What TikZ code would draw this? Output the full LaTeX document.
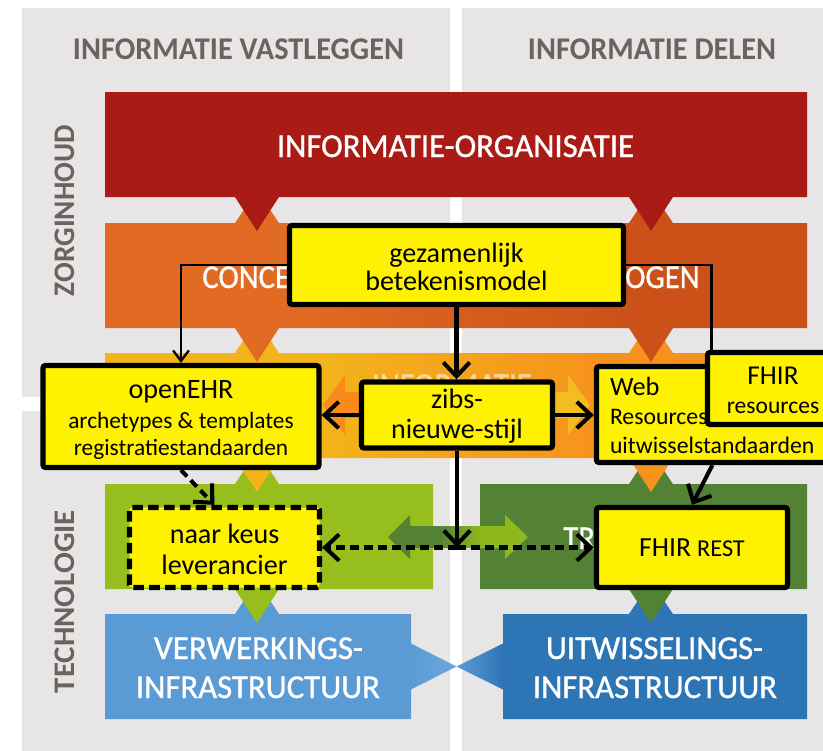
\documentclass[tikz,border=0pt]{standalone}
\usepackage{fontspec}
\setmainfont{Carlito}
\newfontfamily\bandf[FakeBold=1]{Carlito}
\usepackage{graphicx}
\usetikzlibrary{arrows.meta,calc}
\newlength\pxu \setlength\pxu{0.02cm}
\definecolor{panel}{HTML}{E7E5E6}
\definecolor{hdrc}{HTML}{6E635C}
\definecolor{redb}{HTML}{A91B14}
\definecolor{orL}{HTML}{E16B22}
\definecolor{orR}{HTML}{CC5118}
\definecolor{midL}{HTML}{F2B31B}
\definecolor{midR}{HTML}{F7931D}
\definecolor{midArrL}{HTML}{FA8B1A}
\definecolor{midArrR}{HTML}{F3BD22}
\definecolor{grL}{HTML}{96BE1D}
\definecolor{grR}{HTML}{548235}
\definecolor{grArrR}{HTML}{8DB91E}
\definecolor{blL}{HTML}{5B9BD5}
\definecolor{blLt}{HTML}{6CA8DE}
\definecolor{blMid}{HTML}{5C9BD6}
\definecolor{blR}{HTML}{2E75B6}
\pgfdeclarehorizontalshading{orshade}{100bp}{color(0bp)=(orL); color(38bp)=(orL); color(62bp)=(orR); color(100bp)=(orR)}
\pgfdeclarehorizontalshading{midshade}{100bp}{color(0bp)=(midL); color(41bp)=(midL); color(59.5bp)=(midR); color(100bp)=(midR)}
\pgfdeclarehorizontalshading{midarrow}{100bp}{color(0bp)=(midArrL); color(43bp)=(midArrL); color(58bp)=(midArrR); color(100bp)=(midArrR)}
\pgfdeclarehorizontalshading{grarrow}{100bp}{color(0bp)=(grR); color(43.5bp)=(grR); color(58bp)=(grArrR); color(100bp)=(grArrR)}
\begin{document}
\begin{tikzpicture}[x=0.02cm,y=-0.02cm,
  hdr/.style={font=\bfseries\fontsize{18}{18}\selectfont, text=hdrc, inner sep=0pt, anchor=base},
  bandtxt/.style={font=\bandf\fontsize{19}{19}\selectfont, text=white, inner sep=0pt, anchor=base},
  ybox/.style={draw=black, line width=3pt, fill=yellow, rounded corners=1.5pt, inner sep=0pt, align=center, text=black},
  conn/.style={line width=2.3pt, -{Straight Barb[length=8pt,width=15pt]}},
  dconn/.style={conn, dash pattern=on 5pt off 3pt},
  thinconn/.style={line width=1.3pt, -{Straight Barb[length=6pt,width=9pt]}},
  thinline/.style={line width=1.3pt}]
\useasboundingbox (0,0) rectangle (823,751);
\clip (0,0) rectangle (823,751);
\fill[white] (0,0) rectangle (823,751);
% panels
\fill[panel] (22,8) rectangle (450,397);
\fill[panel] (462,8) rectangle (823,397);
\fill[panel] (22,411) rectangle (450,751);
\fill[panel] (462,411) rectangle (823,751);
% headers
\node[hdr] (h1) at (238.5,59) {\resizebox{331\pxu}{\height}{INFORMATIE VASTLEGGEN}};
\node[hdr] (h2) at (652,59) {\resizebox{248\pxu}{\height}{INFORMATIE DELEN}};
\node[hdr, rotate=90, font=\bfseries\fontsize{17}{17}\selectfont] (zorg) at (74,210.5) {\resizebox{171\pxu}{\height}{ZORGINHOUD}};
\node[hdr, rotate=90, font=\bfseries\fontsize{17}{17}\selectfont] (tech) at (74,601.5) {\resizebox{183\pxu}{\height}{TECHNOLOGIE}};
% blue
\fill[blL] (105,614) -- (235,614) -- (257,581) -- (279,614) -- (411,614) -- (411,719) -- (105,719) -- cycle;
\shade[left color=blL, right color=blLt] (410,643) -- (456.5,666.5) -- (410,690) -- cycle;
\fill[blR] (503,614) -- (629,614) -- (651,581) -- (673,614) -- (807,614) -- (807,719) -- (503,719) -- cycle;
\shade[left color=blMid, right color=blR] (456.5,666.5) -- (504,643) -- (504,690) -- cycle;
\node[bandtxt] (v1) at (258.5,659) {\resizebox{209\pxu}{\height}{VERWERKINGS-}};
\node[bandtxt] (v2) at (258,698) {\resizebox{244\pxu}{\height}{INFRASTRUCTUUR}};
\node[bandtxt] (u1) at (654.5,659) {\resizebox{217\pxu}{\height}{UITWISSELINGS-}};
\node[bandtxt] (u2) at (655,698) {\resizebox{244\pxu}{\height}{INFRASTRUCTUUR}};
% green
\fill[grL] (105,484) -- (235,484) -- (257,451) -- (279,484) -- (433,484) -- (433,589) -- (279,589) -- (257,623) -- (235,589) -- (105,589) -- cycle;
\fill[grR] (480,484) -- (629,484) -- (651,451) -- (673,484) -- (807,484) -- (807,589) -- (673,589) -- (651,623) -- (629,589) -- (480,589) -- cycle;
\shade[shading=grarrow] (388,537) -- (410,515) -- (410,526) -- (505,526) -- (505,515) -- (528,537) -- (505,559) -- (505,548) -- (410,548) -- (410,559) -- cycle;
\node[bandtxt, anchor=base west] (tr) at (563,549) {\scalebox{0.92}[1]{TR}};
% middle
\shade[shading=midshade] (105,353) -- (235,353) -- (257,320) -- (279,353) -- (629,353) -- (651,320) -- (673,353) -- (807,353) -- (807,458) -- (673,458) -- (651,492) -- (629,458) -- (279,458) -- (257,492) -- (235,458) -- (105,458) -- cycle;
\shade[shading=midarrow] (323,405) -- (345,375) -- (345,392) -- (568,392) -- (568,375) -- (590,405) -- (568,435) -- (568,418) -- (345,418) -- (345,435) -- cycle;
\node[bandtxt, text opacity=0.55] (inf) at (452,396) {\resizebox{160\pxu}{\height}{INFORMATIE}};
% orange
\shade[shading=orshade] (105,223) -- (235,223) -- (257,190) -- (279,223) -- (629,223) -- (651,190) -- (673,223) -- (807,223) -- (807,328) -- (673,328) -- (651,362) -- (629,328) -- (279,328) -- (257,362) -- (235,328) -- (105,328) -- cycle;
\node[bandtxt, anchor=base west] (conc) at (202,288) {\scalebox{0.92}[1]{CONCE}};
\node[bandtxt, anchor=base east] (ogen) at (700,288) {\scalebox{0.92}[1]{OGEN}};
% red
\fill[redb] (105,92) -- (807,92) -- (807,197) -- (673,197) -- (651,231) -- (629,197) -- (279,197) -- (257,231) -- (235,197) -- (105,197) -- cycle;
\node[bandtxt] (org) at (455.5,157) {\resizebox{357\pxu}{\height}{INFORMATIE-ORGANISATIE}};
% yellow boxes
\node[ybox, minimum width=276*0.02cm, minimum height=102*0.02cm, font=\fontsize{13.3}{15.5}\selectfont] (ehr) at (181,416.5)
  {\rule{0pt}{14.5pt}{\fontsize{16}{16}\selectfont openEHR}\\[1.5pt]archetypes \& templates\\registratiestandaarden};
\node[ybox, minimum width=191*0.02cm, minimum height=66*0.02cm, font=\fontsize{16}{17}\selectfont] (zibs) at (457,415)
  {\rule{0pt}{12.5pt}zibs-\\nieuwe-stijl};
\node[ybox, align=left, text width=219.5*0.02cm, inner xsep=13.5*0.02cm, minimum height=96*0.02cm, font=\fontsize{13.5}{16.5}\selectfont] (web) at (719.75,414.5)
  {\rule{0pt}{11.5pt}{\fontsize{15}{15}\selectfont Web}\\Resources\\uitwisselstandaarden};
\node[ybox, minimum width=131*0.02cm, minimum height=72*0.02cm, font=\fontsize{13.4}{16.5}\selectfont] (fres) at (773,388.5)
  {\rule{0pt}{12pt}{\fontsize{15.5}{15.5}\selectfont FHIR}\\resources};
\node[ybox, minimum width=334*0.02cm, minimum height=79*0.02cm, font=\fontsize{16}{16}\selectfont] (gez) at (456.5,265)
  {\rule{0pt}{13.3pt}gezamenlijk\\betekenismodel};
\node[ybox, dash pattern=on 6pt off 3pt, minimum width=190*0.02cm, minimum height=80*0.02cm, font=\fontsize{16}{17.6}\selectfont] (naar) at (224.5,547.5)
  {\rule{0pt}{13pt}naar keus\\leverancier};
\node[ybox, minimum width=191*0.02cm, minimum height=80*0.02cm, font=\fontsize{15.7}{16}\selectfont] (rest) at (692,547.5)
  {FHIR {\fontsize{13.8}{16}\selectfont REST}};
% connectors
\draw[thinconn] (gez.west) -| (ehr.north);
\draw[thinline] (gez.east) -| ($(fres.north west)+(6.5,0)$);
\draw[conn] (gez.south) -- (gez.south |- zibs.north);
\draw[conn] (zibs.west) -- (zibs.west -| ehr.east);
\draw[conn] (zibs.east) -- (zibs.east -| web.west);
\coordinate (j) at (zibs.south |- naar.east);
\draw[conn] (zibs.south) -- (j);
\draw[dconn] (j) -- (naar.east);
\draw[dconn] (j) -- (j -| rest.west);
\draw[dconn] (ehr.south) -- ($(naar.north west)+(87.5,0)$);
\draw[conn] ($(web.south west)+(118.5,0)$) -- (rest.north);
\end{tikzpicture}
\end{document}
